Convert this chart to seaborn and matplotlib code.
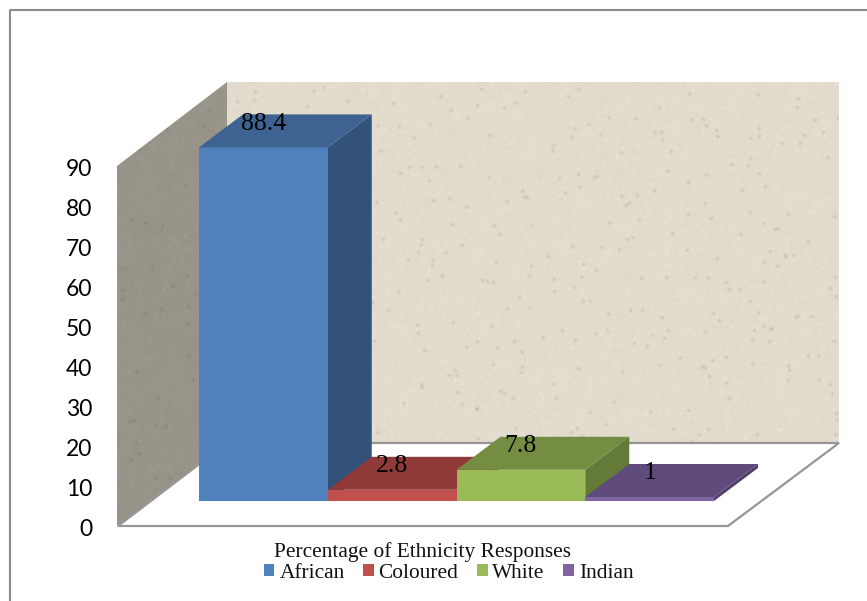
import numpy as np
import pandas as pd
import matplotlib
matplotlib.use("Agg")
import matplotlib.pyplot as plt
from matplotlib.patches import Patch, Polygon
import seaborn as sns

categories = ["African", "Coloured", "White", "Indian"]
values = [88.4, 2.8, 7.8, 1]
value_labels = ["88.4", "2.8", "7.8", "1"]
y_ticks = [0, 10, 20, 30, 40, 50, 60, 70, 80, 90]
front_colors = ["#4F81BD", "#C0504D", "#9BBB59", "#8064A2"]
top_colors = ["#3E6392", "#8F3A38", "#748D43", "#5F4A7C"]
side_colors = ["#335279", "#7D3230", "#637A39", "#523F6C"]
caption = "Percentage of Ethnicity Responses"

W, H = 867, 601
DEPTH_X, DEPTH_Y = 44, 33  # bar depth on screen, in pixels

sns.set_theme(style="white")
plt.rcParams["font.family"] = ["Liberation Serif", "DejaVu Serif"]

fig = plt.figure(figsize=(W / 100, H / 100), dpi=100, facecolor="white")


def axes_px(left, top, right, bottom, **kw):
    """Add axes placed by pixel edges measured from the top-left corner."""
    return fig.add_axes([left / W, 1 - bottom / H, (right - left) / W, (bottom - top) / H], **kw)


def smooth(a, r):
    out = a
    for axis in (0, 1):
        out = sum(np.roll(out, s, axis=axis) for s in range(-r, r + 1)) / (2 * r + 1)
    return out


def stone(base, rng, speck):
    """Soft speckled stone surface around a base colour."""
    grain = smooth(rng.normal(size=(H, W)), 1) * 3.0 + smooth(rng.normal(size=(H, W)), 7) * 7.0
    light = smooth((rng.random((H, W)) > 0.985).astype(float), 1) * 18
    dark = smooth(smooth((rng.random((H, W)) > 0.9985).astype(float), 1), 1) * -speck
    shade = grain + light + dark
    return np.clip((np.array(base)[None, None, :] + shade[..., None]) / 255, 0, 1)


# Room: page frame, back wall, side wall and floor on a pixel-scaled canvas
room = axes_px(0, 0, W, H)
room.set_xlim(0, W)
room.set_ylim(H, 0)
room.axis("off")
room.plot([9.5, 9.5, 867], [601, 10, 10], color="#8C8C8C", lw=1.5)

rng = np.random.default_rng(11)
back = room.imshow(stone((226, 219, 206), rng, 190), extent=(0, W, H, 0), aspect="auto", zorder=1)
back.set_clip_path(Polygon([(227, 82), (839, 82), (839, 443), (227, 443)], transform=room.transData))
side = room.imshow(stone((153, 148, 137), rng, 130), extent=(0, W, H, 0), aspect="auto", zorder=1)
side.set_clip_path(Polygon([(117, 166), (227, 82), (227, 443), (117, 526)], transform=room.transData))
room.set_xlim(0, W)
room.set_ylim(H, 0)
room.add_patch(Polygon([(118, 526), (728, 526), (839, 443), (227, 443)], closed=True,
                       facecolor="white", edgecolor="#969696", lw=1.6, zorder=2))

# Value axis: carries the tick labels along the wall's front edge
scale = axes_px(117, 167.5, 728, 527.5)
scale.patch.set_alpha(0)
scale.set_ylim(0, 90)
scale.set_yticks(y_ticks)
scale.set_xticks([])
scale.tick_params(axis="y", length=0, pad=18, labelsize=16.5)
for label in scale.get_yticklabels():
    label.set_fontfamily(["Lato", "DejaVu Sans"])
    label.set_color("black")
sns.despine(ax=scale, left=True, bottom=True)

# Bars: same value scale, moved back into the room
bars_ax = axes_px(199, 141, 714, 501)
bars_ax.patch.set_alpha(0)
df = pd.DataFrame({"category": categories, "value": values})
sns.barplot(data=df, x="category", y="value", hue="category", palette=front_colors,
            width=1, dodge=False, legend=False, saturation=1, ax=bars_ax)
bars_ax.set_xlim(-0.5, 3.5)
bars_ax.set_ylim(0, 90)
bars_ax.axis("off")

dx = DEPTH_X * 4 / 515
dy = DEPTH_Y / 4
for i, (bar, top_c, side_c, label) in enumerate(zip(bars_ax.patches, top_colors, side_colors, value_labels)):
    x0, w, h = bar.get_x(), bar.get_width(), bar.get_height()
    z = 3 + i
    bar.set_zorder(z)
    bar.set_edgecolor("none")
    bar.set_linewidth(0)
    bar.set_clip_on(False)
    bars_ax.add_patch(Polygon([(x0, h), (x0 + w, h), (x0 + w + dx, h + dy), (x0 + dx, h + dy)],
                              facecolor=top_c, edgecolor="none", zorder=z, clip_on=False))
    bars_ax.add_patch(Polygon([(x0 + w, 0), (x0 + w + dx, dy), (x0 + w + dx, h + dy), (x0 + w, h)],
                              facecolor=side_c, edgecolor="none", zorder=z - 0.5, clip_on=False))
    bars_ax.annotate(label, xy=(x0 + w / 2, h), xytext=(0, 17), textcoords="offset points",
                     ha="center", va="center", fontsize=18.5, color="black", zorder=10,
                     annotation_clip=False)

# Caption and legend underneath the floor
room.text(423, 552.5, caption, ha="center", va="center", fontsize=15.4, color="#111111", zorder=6)
handles = [Patch(facecolor=c, edgecolor="none", label=n) for c, n in zip(front_colors, categories)]
fig.legend(handles=handles, ncol=4, frameon=False, loc="center",
           bbox_to_anchor=(448.5 / W, 1 - 573 / H), fontsize=15.4, handlelength=0.51, handleheight=0.51,
           handletextpad=0.23, columnspacing=0.85, labelcolor="#111111", borderpad=0)

fig.savefig("out.png", dpi=100)
